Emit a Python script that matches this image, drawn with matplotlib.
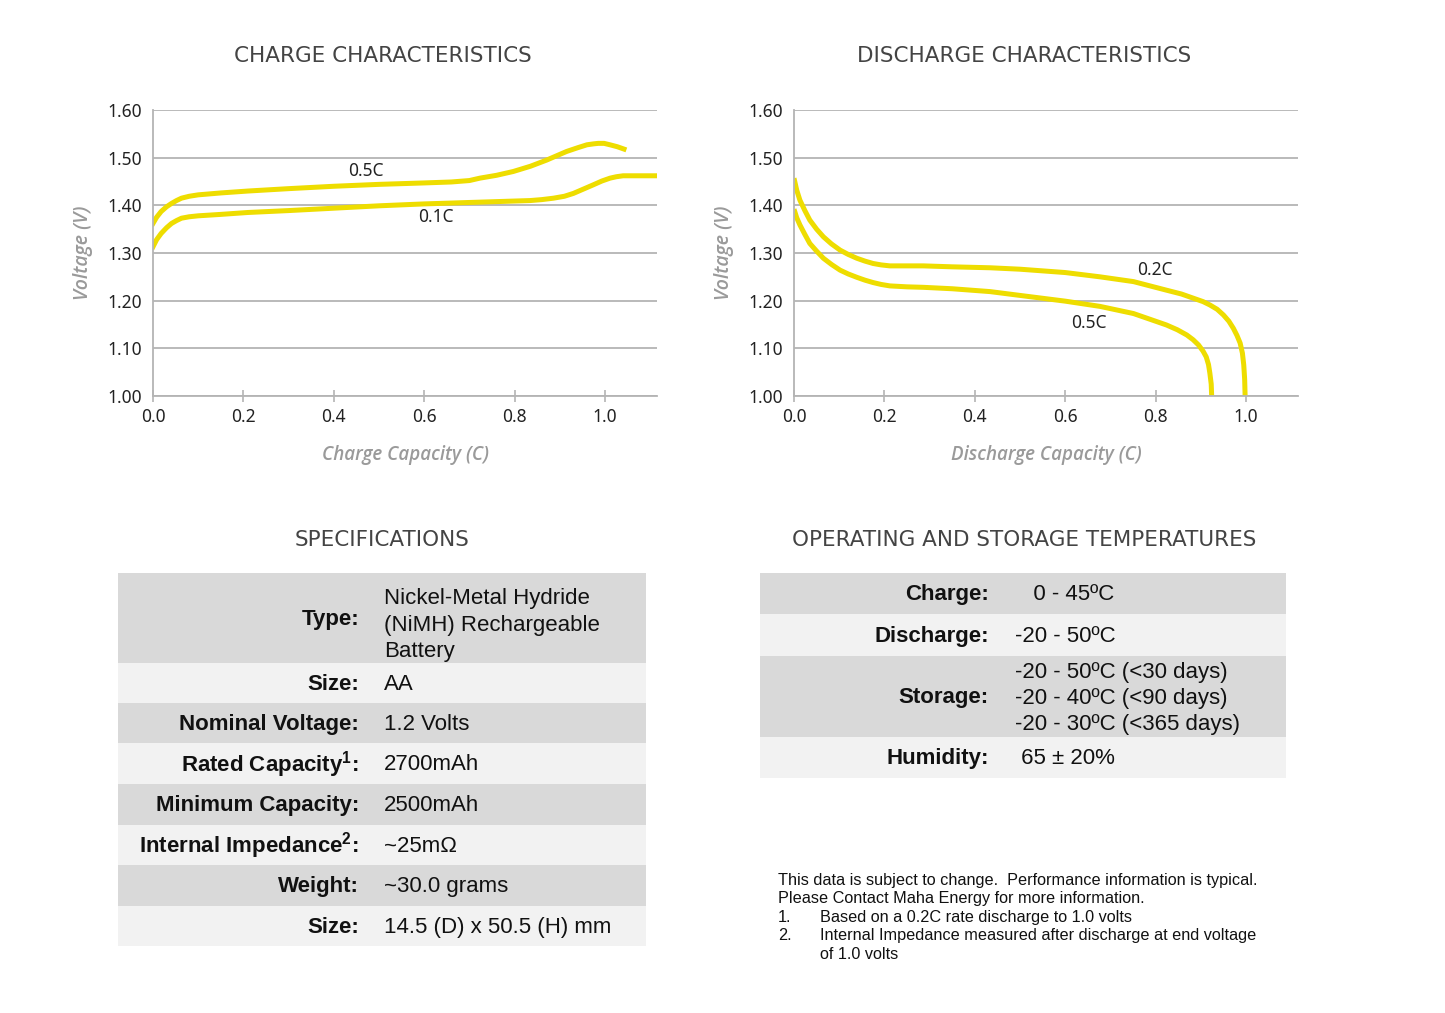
import numpy as np
import matplotlib
matplotlib.use('Agg')
import matplotlib.pyplot as plt
from matplotlib.patches import Rectangle

W, H = 1445, 1013

# charge curves (capacity in C, voltage in V)
charge_x_05 = [0.0, 0.008, 0.018, 0.03, 0.041, 0.052, 0.063, 0.08, 0.1, 0.15, 0.21, 0.3, 0.4, 0.5, 0.6, 0.66,
               0.7, 0.723, 0.76, 0.797, 0.835, 0.871, 0.915, 0.94, 0.96, 0.975, 0.985, 0.998, 1.011, 1.027, 1.042]
charge_v_05 = [1.362, 1.375, 1.387, 1.397, 1.404, 1.410, 1.415, 1.419, 1.422, 1.426, 1.430, 1.435, 1.440, 1.444,
               1.447, 1.449, 1.452, 1.457, 1.463, 1.471, 1.482, 1.495, 1.513, 1.521, 1.527, 1.529, 1.530, 1.530,
               1.527, 1.523, 1.518]
charge_x_01 = [0.0, 0.008, 0.018, 0.03, 0.041, 0.052, 0.063, 0.08, 0.1, 0.15, 0.21, 0.3, 0.4, 0.5, 0.6, 0.7, 0.8,
               0.834, 0.86, 0.886, 0.91, 0.93, 0.952, 0.974, 0.993, 1.011, 1.025, 1.04, 1.07, 1.115]
charge_v_01 = [1.313, 1.328, 1.341, 1.353, 1.362, 1.368, 1.373, 1.376, 1.378, 1.381, 1.385, 1.389, 1.394, 1.399,
               1.403, 1.406, 1.409, 1.410, 1.412, 1.415, 1.419, 1.425, 1.434, 1.443, 1.451, 1.457, 1.460, 1.462,
               1.462, 1.462]

# discharge curves
dis_x_02 = [0.0, 0.006, 0.013, 0.024, 0.035, 0.05, 0.065, 0.083, 0.102, 0.12, 0.139, 0.157, 0.175, 0.193, 0.212,
            0.25, 0.286, 0.35, 0.434, 0.5, 0.6, 0.677, 0.751, 0.824, 0.857, 0.884, 0.905, 0.920, 0.936, 0.950,
            0.962, 0.972, 0.980, 0.987, 0.992, 0.995, 0.997, 0.998]
dis_v_02 = [1.457, 1.432, 1.411, 1.389, 1.369, 1.350, 1.334, 1.319, 1.306, 1.297, 1.289, 1.283, 1.278, 1.275,
            1.273, 1.273, 1.273, 1.271, 1.269, 1.266, 1.259, 1.250, 1.240, 1.222, 1.214, 1.205, 1.198, 1.191,
            1.182, 1.170, 1.157, 1.142, 1.127, 1.111, 1.09, 1.065, 1.035, 1.0]
dis_x_05 = [0.0, 0.006, 0.013, 0.024, 0.035, 0.05, 0.065, 0.083, 0.102, 0.12, 0.139, 0.157, 0.175, 0.193, 0.212,
            0.25, 0.286, 0.35, 0.434, 0.5, 0.6, 0.677, 0.751, 0.824, 0.848, 0.869, 0.883, 0.895, 0.905, 0.912,
            0.917, 0.920, 0.923, 0.924]
dis_v_05 = [1.392, 1.374, 1.359, 1.339, 1.320, 1.304, 1.289, 1.276, 1.264, 1.256, 1.249, 1.243, 1.238, 1.234,
            1.231, 1.229, 1.228, 1.225, 1.219, 1.211, 1.199, 1.188, 1.173, 1.149, 1.139, 1.128, 1.118, 1.107,
            1.094, 1.082, 1.066, 1.048, 1.025, 1.0]

y_ticks = [1.00, 1.10, 1.20, 1.30, 1.40, 1.50, 1.60]
x_ticks = [0.0, 0.2, 0.4, 0.6, 0.8, 1.0]

spec_labels = ['Type:', 'Size:', 'Nominal Voltage:', r'Rated Capacity$^{\mathregular{1}}$:', 'Minimum Capacity:',
               r'Internal Impedance$^{\mathregular{2}}$:', 'Weight:', 'Size:']
spec_values = ['Nickel-Metal Hydride\n(NiMH) Rechargeable\nBattery', 'AA', '1.2 Volts', '2700mAh', '2500mAh',
               '~25mΩ', '~30.0 grams', '14.5 (D) x 50.5 (H) mm']
temp_labels = ['Charge:', 'Discharge:', 'Storage:', 'Humidity:']
temp_values = ['   0 - 45ºC', '-20 - 50ºC', '-20 - 50ºC (<30 days)\n-20 - 40ºC (<90 days)\n-20 - 30ºC (<365 days)',
               ' 65 ± 20%']

notes = ['This data is subject to change.  Performance information is typical.',
         'Please Contact Maha Energy for more information.']
footnotes = [('1.', 'Based on a 0.2C rate discharge to 1.0 volts'),
             ('2.', 'Internal Impedance measured after discharge at end voltage'),
             ('', 'of 1.0 volts')]

YELLOW = '#EEDD00'
GRID = '#b4b4b4'
TITLE_FONT = 'DejaVu Sans'
LABEL_FONT = 'Open Sans'
TICK_FONT = 'Noto Sans'
TABLE_FONT = 'Liberation Sans'

fig = plt.figure(figsize=(W / 100, H / 100), dpi=100)


def make_axes(left_px):
    ax = fig.add_axes([left_px / W, 1 - 396 / H, 504 / W, 286 / H])
    ax.set_xlim(0, 1.115)
    ax.set_ylim(1.0, 1.6)
    ax.set_yticks(y_ticks)
    ax.set_yticklabels([f'{v:.2f}' for v in y_ticks])
    ax.set_xticks(x_ticks)
    ax.set_xticklabels([f'{v:.1f}' for v in x_ticks])
    ax.grid(axis='y', color=GRID, lw=1.3)
    ax.set_axisbelow(True)
    for s in ['top', 'right']:
        ax.spines[s].set_visible(False)
    for s in ['left', 'bottom']:
        ax.spines[s].set_color(GRID)
        ax.spines[s].set_linewidth(1.3)
    ax.tick_params(axis='y', length=0, pad=8, labelsize=12.5, labelcolor='#222222')
    ax.tick_params(axis='x', direction='inout', length=8, width=1.2, color=GRID, pad=5,
                   labelsize=12.5, labelcolor='#222222')
    for lab in ax.get_xticklabels() + ax.get_yticklabels():
        lab.set_fontfamily(TICK_FONT)
    ax.set_ylabel('Voltage (V)', family=LABEL_FONT, style='italic', weight='semibold',
                  color='#9a9a9a', fontsize=14, labelpad=10)
    return ax


ax1 = make_axes(153)
ax1.plot(charge_x_05, charge_v_05, color=YELLOW, lw=3.6, solid_joinstyle='round')
ax1.plot(charge_x_01, charge_v_01, color=YELLOW, lw=3.6, solid_joinstyle='round')
ax1.text(0.47, 1.472, '0.5C', family=TICK_FONT, fontsize=12.5, ha='center', va='center', color='#222222')
ax1.text(0.625, 1.376, '0.1C', family=TICK_FONT, fontsize=12.5, ha='center', va='center', color='#222222')
ax1.set_xlabel('Charge Capacity (C)', family=LABEL_FONT, style='italic', weight='semibold',
               color='#9a9a9a', fontsize=13.5, labelpad=13)

ax2 = make_axes(794)
ax2.plot(dis_x_02, dis_v_02, color=YELLOW, lw=3.6, solid_joinstyle='round', solid_capstyle='butt')
ax2.plot(dis_x_05, dis_v_05, color=YELLOW, lw=3.6, solid_joinstyle='round', solid_capstyle='butt')
ax2.text(0.798, 1.265, '0.2C', family=TICK_FONT, fontsize=12.5, ha='center', va='center', color='#222222')
ax2.text(0.653, 1.153, '0.5C', family=TICK_FONT, fontsize=12.5, ha='center', va='center', color='#222222')
ax2.set_xlabel('Discharge Capacity (C)', family=LABEL_FONT, style='italic', weight='semibold',
               color='#9a9a9a', fontsize=13.5, labelpad=13)

# overlay in pixel coordinates for titles and tables
ov = fig.add_axes([0, 0, 1, 1], zorder=-1)
ov.set_xlim(0, W)
ov.set_ylim(H, 0)
ov.axis('off')

for x, y, t in [(383, 56, 'CHARGE CHARACTERISTICS'), (1024, 56, 'DISCHARGE CHARACTERISTICS'),
                (382, 540, 'SPECIFICATIONS'), (1024, 540, 'OPERATING AND STORAGE TEMPERATURES')]:
    ov.text(x, y, t, family=TITLE_FONT, fontsize=15.5, color='#444444', ha='center', va='center')


def draw_table(x0, x1, edges, labels, values, label_x, value_x, multi_dy):
    for i in range(len(labels)):
        top, bot = edges[i], edges[i + 1]
        fc = '#d9d9d9' if i % 2 == 0 else '#f2f2f2'
        ov.add_patch(Rectangle((x0, top), x1 - x0, bot - top, facecolor=fc, edgecolor='none'))
        mid = (top + bot) / 2
        dy = multi_dy if '\n' in values[i] else 1
        ov.text(label_x, mid + 1, labels[i], family=TABLE_FONT, weight='bold', fontsize=16,
                ha='right', va='center', color='#111111')
        ov.text(value_x, mid + dy, values[i], family=TABLE_FONT, fontsize=16, ha='left', va='center',
                color='#111111', linespacing=1.33)


draw_table(118, 646, [573, 663, 703, 743, 784, 825, 865, 906, 946], spec_labels, spec_values, 359, 384, 7)
draw_table(760, 1286, [573, 614, 656, 737, 778], temp_labels, temp_values, 989, 1015, 2)

y = 880
for line in notes:
    ov.text(778, y, line, family=TABLE_FONT, fontsize=11.7, ha='left', va='center', color='#111111')
    y += 18.6
for num, line in footnotes:
    ov.text(778, y, num, family=TABLE_FONT, fontsize=11.7, ha='left', va='center', color='#111111')
    ov.text(820, y, line, family=TABLE_FONT, fontsize=11.7, ha='left', va='center', color='#111111')
    y += 18.6

fig.savefig('out.png', dpi=100, facecolor='white')
